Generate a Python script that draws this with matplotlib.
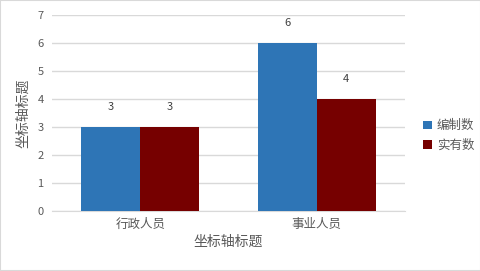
import matplotlib.pyplot as plt
import numpy as np

plt.rcParams['font.family'] = ['Noto Sans CJK SC', 'DejaVu Sans']

categories = ['行政人员', '事业人员']
series_names = ['编制数', '实有数']
bianzhi = [3, 6]
shiyou = [3, 4]
colors = ['#2E75B6', '#760000']

fig = plt.figure(figsize=(4.81, 2.71), dpi=100)
ax = fig.add_axes([52 / 481, 60 / 271, 353 / 481, 196 / 271])

x = np.arange(len(categories))
w = 0.333
for i, (vals, name) in enumerate(zip([bianzhi, shiyou], series_names)):
    b = ax.bar(x + (i - 0.5) * w, vals, w, color=colors[i], label=name, zorder=3)
    for rect, v in zip(b, vals):
        ax.annotate(str(v), (rect.get_x() + rect.get_width() / 2, v),
                    xytext=(0, 11), textcoords='offset points',
                    ha='center', va='bottom', fontsize=8, color='#404040')

ax.set_xlim(-0.5, 1.5)
ax.set_ylim(0, 7)
ax.set_yticks(range(8))
ax.set_xticks(x)
ax.set_xticklabels(categories)
ax.grid(axis='y', color='#D9D9D9', linewidth=1, zorder=0)
for s in ['top', 'right', 'left']:
    ax.spines[s].set_visible(False)
ax.spines['bottom'].set_color('#D9D9D9')
ax.tick_params(axis='both', length=0, colors='#595959', labelsize=8)
ax.tick_params(axis='x', labelsize=9, pad=5)
ax.tick_params(axis='y', pad=6)
ax.set_xlabel('坐标轴标题', fontsize=10, color='#595959', labelpad=3)
ax.set_ylabel('坐标轴标题', fontsize=10, color='#595959', labelpad=5)

fig.legend(loc='center left', bbox_to_anchor=(412 / 481, 0.5), frameon=False,
           fontsize=9, handlelength=0.7, handleheight=0.7, handletextpad=0.4,
           labelcolor='#595959')

border = plt.Rectangle((0, 0), 1, 1, transform=fig.transFigure, fill=False,
                       edgecolor='#D9D9D9', linewidth=1.5)
fig.patches.append(border)

fig.savefig('out.png', dpi=100)
